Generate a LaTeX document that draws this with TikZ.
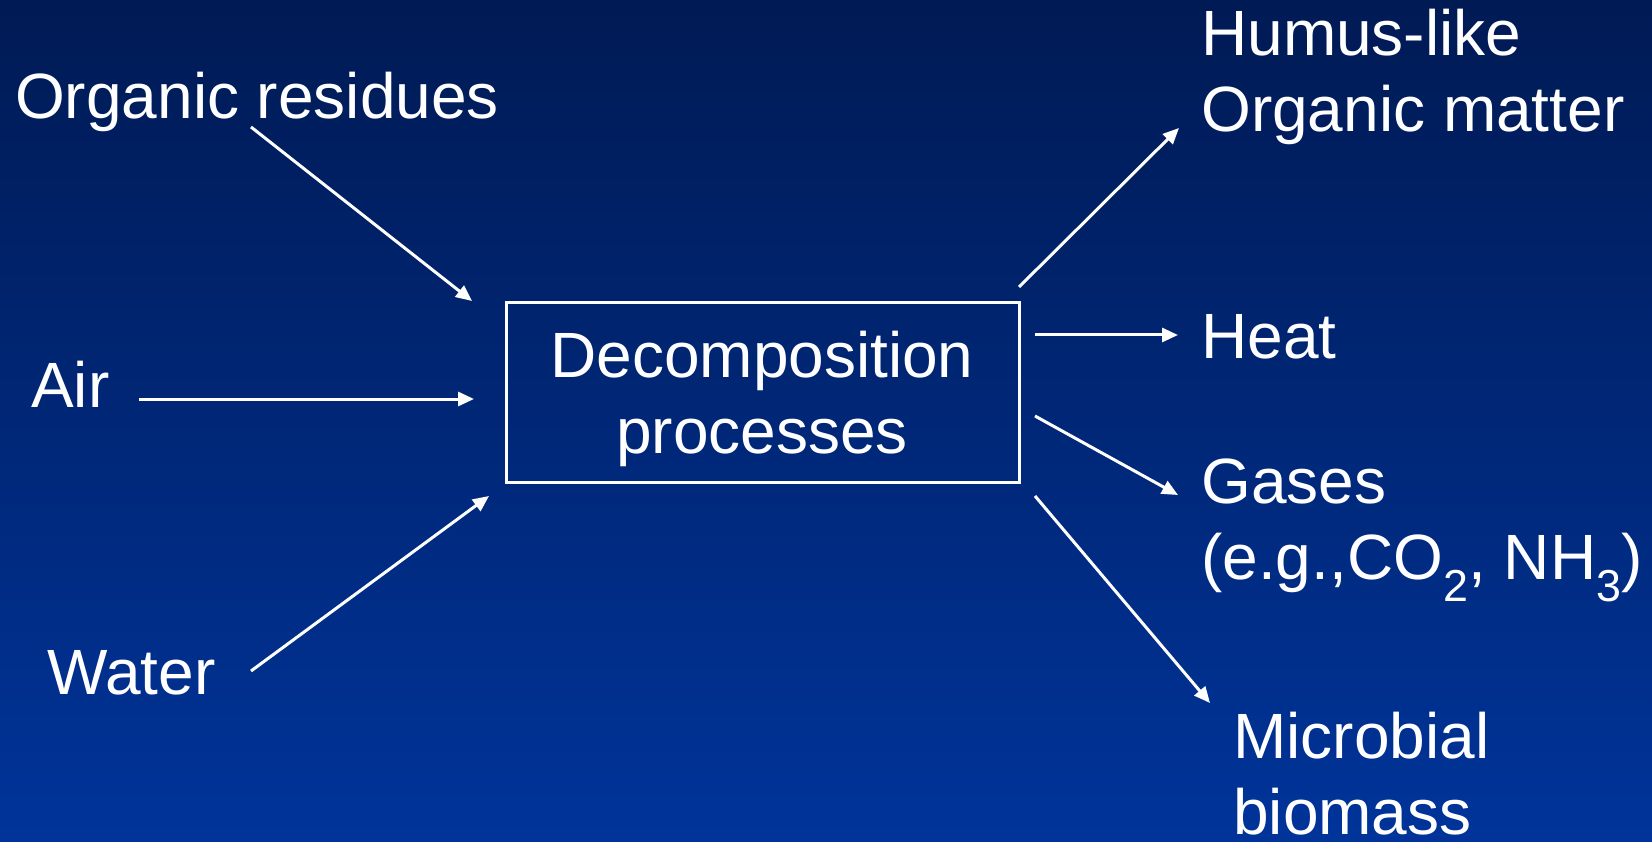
\documentclass[tikz,border=0pt]{standalone}
\usepackage{fontspec}
\setmainfont{Liberation Sans}
\usetikzlibrary{arrows.meta}
\definecolor{bgtop}{RGB}{0,26,84}
\definecolor{bgbot}{RGB}{0,52,154}
\begin{document}
\begin{tikzpicture}[x=1pt,y=-1pt,
  lbl/.style={text=white, font=\fontsize{64}{76}\selectfont, inner sep=0pt, anchor=base west, align=left},
  ctr/.style={text=white, font=\fontsize{64}{76}\selectfont, inner sep=0pt, anchor=base, align=center},
  conn/.style={draw=white, line width=3pt, -{Triangle[length=16pt,width=14pt]}},
  procbox/.style={draw=white, line width=3pt, minimum width=513pt, minimum height=179pt, inner sep=0pt}]
\shade[top color=bgtop, bottom color=bgbot] (0,0) rectangle (1652,842);
\useasboundingbox (0,0) rectangle (1652,842);
% box
\node[procbox] (box) at (762.5,392.5) {};
\node[ctr] (boxtext) at (762,453) {Decomposition\\processes};
% labels (multi-line nodes: base = baseline of last line)
\node[lbl] (org) at (15,119) {Organic residues};
\node[lbl] (air) at (31,407) {Air};
\node[lbl] (water) at (47,694) {Water};
\node[lbl] (humus) at (1201,132) {Humus-like\\Organic matter};
\node[lbl] (heat) at (1201,359) {Heat};
\node[lbl] (gases) at (1201,579) {Gases\\(e.g.,CO\textsubscript{2}, NH\textsubscript{3})};
\node[lbl] (micro) at (1233,834) {Microbial\\biomass};
% connector ends
\coordinate (orgS) at (251,127);   \coordinate (orgE) at (472,301);
\coordinate (airS) at (139,399);   \coordinate (airE) at (474,399);
\coordinate (watS) at (251,671);   \coordinate (watE) at (489,496);
\coordinate (humS) at (1019,287);  \coordinate (humE) at (1179,128);
\coordinate (heaS) at (1035,335);  \coordinate (heaE) at (1178,335);
\coordinate (gasS) at (1035,416);  \coordinate (gasE) at (1178,495);
\coordinate (micS) at (1035,496);  \coordinate (micE) at (1210,703);
\draw[conn] (orgS) -- (orgE);
\draw[conn] (airS) -- (airE);
\draw[conn] (watS) -- (watE);
\draw[conn] (humS) -- (humE);
\draw[conn] (heaS) -- (heaE);
\draw[conn] (gasS) -- (gasE);
\draw[conn] (micS) -- (micE);
\end{tikzpicture}
\end{document}
